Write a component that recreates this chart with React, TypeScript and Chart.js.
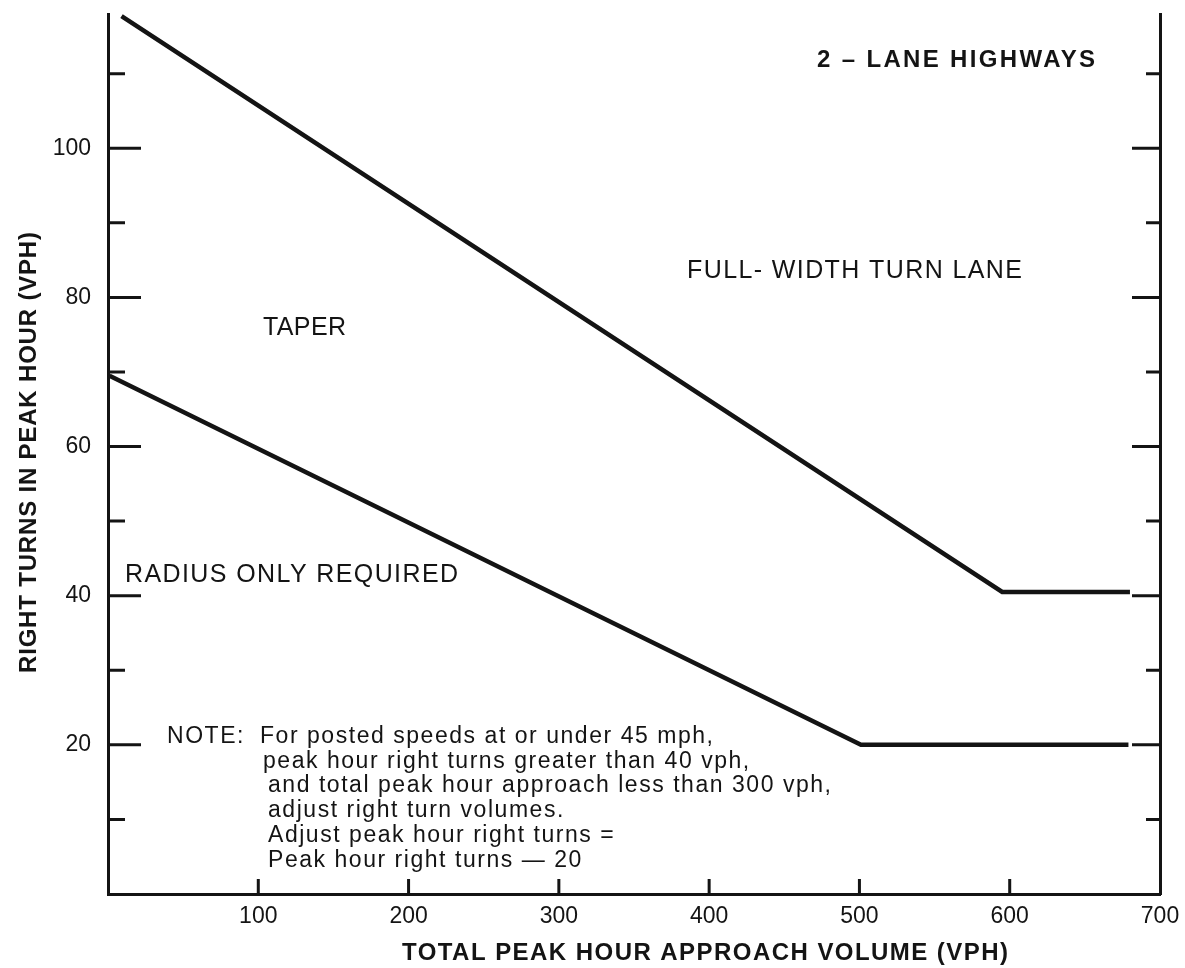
import React, { useEffect, useRef } from "react";
import { Chart, registerables } from "chart.js";

Chart.register(...registerables);

// ---- data ----
const upperX = [9, 595, 680];
const upperY = [117.7, 40.5, 40.5];
const lowerX = [1, 501, 679];
const lowerY = [69.5, 20, 20];

const xTickValues = [100, 200, 300, 400, 500, 600, 700];
const yMajorTicks = [20, 40, 60, 80, 100];
const yMinorTicks = [10, 30, 50, 70, 90, 110];

const xAxisTitle = "TOTAL PEAK HOUR APPROACH VOLUME (VPH)";
const yAxisTitle = "RIGHT TURNS IN PEAK HOUR (VPH)";
const chartTitle = "2 – LANE HIGHWAYS";
const regionLabels = ["FULL- WIDTH TURN LANE", "TAPER", "RADIUS ONLY REQUIRED"];
const noteHead = "NOTE:";
const noteLines = [
  "For posted speeds at or under 45 mph,",
  "peak hour right turns greater than 40 vph,",
  "and total peak hour approach less than 300 vph,",
  "adjust right turn volumes.",
  "Adjust peak hour right turns =",
  "Peak hour right turns — 20",
];

const INK = "#141414";
const FAMILY = '"Liberation Sans", Arial, Helvetica, sans-serif';

function drawFit(
  ctx: CanvasRenderingContext2D,
  text: string,
  x: number,
  y: number,
  font: string,
  target?: number,
  spacing?: number
) {
  ctx.font = font;
  (ctx as any).letterSpacing = "0px";
  let sp = spacing ?? 0;
  if (target !== undefined) {
    const w = ctx.measureText(text).width;
    sp = (target - w) / Math.max(1, text.length - 1);
  }
  (ctx as any).letterSpacing = sp + "px";
  ctx.fillText(text, x, y);
  (ctx as any).letterSpacing = "0px";
  return sp;
}

const decorPlugin = {
  id: "decor",
  afterDraw(chart: any) {
    const ctx: CanvasRenderingContext2D = chart.ctx;
    const xa = chart.scales.x;
    const ya = chart.scales.y;
    const { left, right, bottom } = chart.chartArea;
    ctx.save();
    // inward tick marks
    ctx.strokeStyle = INK;
    ctx.lineWidth = 3;
    ctx.beginPath();
    yMajorTicks.forEach((v) => {
      const y = ya.getPixelForValue(v);
      ctx.moveTo(left, y);
      ctx.lineTo(left + 33, y);
      ctx.moveTo(right, y);
      ctx.lineTo(right - 28, y);
    });
    yMinorTicks.forEach((v) => {
      const y = ya.getPixelForValue(v);
      ctx.moveTo(left, y);
      ctx.lineTo(left + 17, y);
      ctx.moveTo(right, y);
      ctx.lineTo(right - 14, y);
    });
    xTickValues.forEach((v) => {
      if (v >= xa.max) return;
      const x = xa.getPixelForValue(v);
      ctx.moveTo(x, bottom);
      ctx.lineTo(x, bottom - 15);
    });
    ctx.stroke();

    // texts
    ctx.fillStyle = INK;
    ctx.textAlign = "left";
    ctx.textBaseline = "alphabetic";
    drawFit(ctx, chartTitle, 817, 67, `bold 24px ${FAMILY}`, 278);
    drawFit(ctx, regionLabels[0], 687, 278, `25px ${FAMILY}`, 335);
    drawFit(ctx, regionLabels[1], 263, 335, `25px ${FAMILY}`, 83);
    drawFit(ctx, regionLabels[2], 125, 582, `25px ${FAMILY}`, 333);

    // note block
    const noteFont = `23px ${FAMILY}`;
    ctx.font = noteFont;
    (ctx as any).letterSpacing = "0px";
    const w3 = ctx.measureText(noteLines[2]).width;
    const sp = (563 - w3) / (noteLines[2].length - 1);
    const lefts = [260, 263, 268, 268, 268, 268];
    drawFit(ctx, noteHead, 167, 743, noteFont, undefined, sp);
    noteLines.forEach((t, i) => {
      drawFit(ctx, t, lefts[i], 743 + i * 24.7, noteFont, undefined, sp);
    });

    // axis titles
    drawFit(ctx, xAxisTitle, 402, 960, `bold 24px ${FAMILY}`, 606);
    ctx.save();
    ctx.translate(36, 452.5);
    ctx.rotate(-Math.PI / 2);
    drawFit(ctx, yAxisTitle, -220.5, 0, `bold 24px ${FAMILY}`, 441);
    ctx.restore();

    ctx.restore();
  },
};

export default function App() {
  const ref = useRef<HTMLCanvasElement | null>(null);

  useEffect(() => {
    document.body.style.margin = "0";
    const canvas = ref.current;
    if (!canvas) return;
    const tickFont = { family: FAMILY, size: 23 };
    const chart = new Chart(canvas, {
      type: "line",
      data: {
        datasets: [
          {
            label: "Full-width turn lane threshold",
            data: upperX.map((x, i) => ({ x, y: upperY[i] })),
            borderColor: INK,
            borderWidth: 4.5,
            pointRadius: 0,
            fill: false,
            tension: 0,
            borderJoinStyle: "miter",
            clip: false as any,
          },
          {
            label: "Taper threshold",
            data: lowerX.map((x, i) => ({ x, y: lowerY[i] })),
            borderColor: INK,
            borderWidth: 4.5,
            pointRadius: 0,
            fill: false,
            tension: 0,
            borderJoinStyle: "miter",
            clip: false as any,
          },
        ],
      },
      options: {
        responsive: false,
        animation: false,
        layout: { padding: { top: 14, left: 0, right: 0, bottom: 0 } },
        plugins: {
          legend: { display: false },
          tooltip: { enabled: false },
          title: { display: false },
        },
        scales: {
          x: {
            type: "linear",
            position: "bottom",
            min: 0,
            max: 700,
            grid: { display: false },
            border: { display: true, color: INK, width: 3 },
            ticks: { font: tickFont, color: INK, padding: 1, maxRotation: 0 },
            afterBuildTicks: (s: any) => {
              s.ticks = xTickValues.map((v) => ({ value: v }));
            },
            afterFit: (s: any) => {
              s.height = 74;
              s.paddingLeft = 0;
              s.paddingRight = 0;
            },
          },
          y: {
            type: "linear",
            position: "left",
            min: 0,
            max: 118,
            grid: { display: false },
            border: { display: true, color: INK, width: 3 },
            ticks: { font: tickFont, color: INK, padding: 9 },
            afterBuildTicks: (s: any) => {
              s.ticks = yMajorTicks.map((v) => ({ value: v }));
            },
            afterFit: (s: any) => {
              s.width = 108;
              s.paddingTop = 0;
              s.paddingBottom = 0;
            },
          },
          y2: {
            type: "linear",
            position: "right",
            min: 0,
            max: 118,
            grid: { display: false },
            border: { display: true, color: INK, width: 3 },
            ticks: { display: false },
            afterFit: (s: any) => {
              s.width = 25;
              s.paddingTop = 0;
              s.paddingBottom = 0;
            },
          },
        },
      } as any,
      plugins: [decorPlugin],
    });
    return () => chart.destroy();
  }, []);

  return (
    <div style={{ position: "absolute", left: 0, top: 0, width: 1185, height: 968, background: "#fff" }}>
      <canvas ref={ref} width={1185} height={968} style={{ display: "block" }} />
    </div>
  );
}
